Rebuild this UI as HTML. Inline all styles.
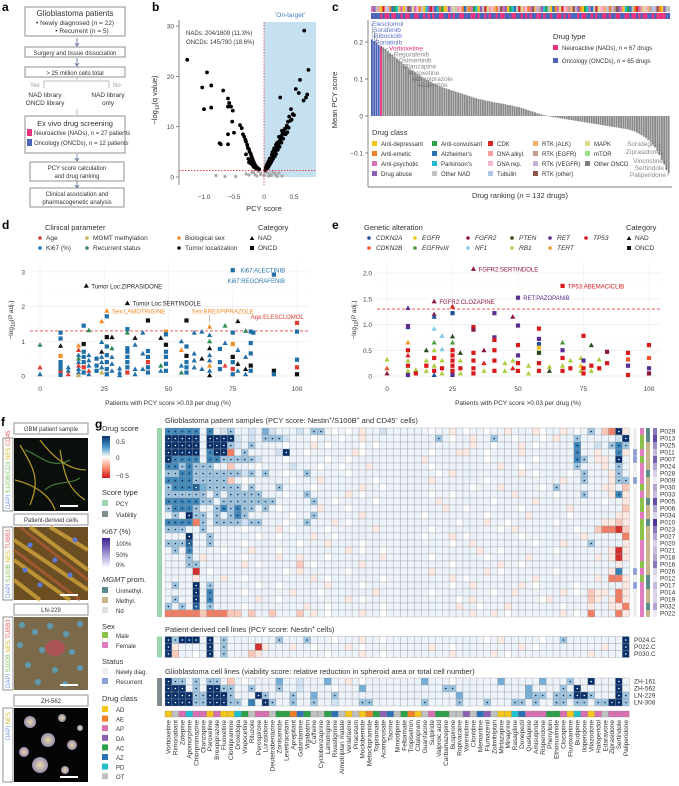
<!DOCTYPE html>
<html><head><meta charset="utf-8">
<style>
html,body{margin:0;padding:0;background:#fff;}
svg{display:block;font-family:"Liberation Sans",Arial,sans-serif;}
text{fill:#333;}
.lab{font-weight:bold;font-size:12px;fill:#000;}
.s6{font-size:6px;} .s65{font-size:6.5px;} .s7{font-size:7px;} .s75{font-size:7.5px;} .s8{font-size:8px;}
.box{fill:#fff;stroke:#777;stroke-width:0.8;}
.tk{font-size:6.5px;fill:#444;}
</style></head>
<body>
<svg id="fig" width="679" height="786" viewBox="0 0 679 786" xmlns="http://www.w3.org/2000/svg">
<defs>
<linearGradient id="gDrug" x1="0" y1="0" x2="0" y2="1">
<stop offset="0" stop-color="#08306b"/><stop offset="0.25" stop-color="#4292c6"/><stop offset="0.5" stop-color="#ffffff"/><stop offset="0.75" stop-color="#fc9272"/><stop offset="1" stop-color="#cb181d"/>
</linearGradient>
<linearGradient id="gKi" x1="0" y1="0" x2="0" y2="1">
<stop offset="0" stop-color="#3f1d8f"/><stop offset="0.5" stop-color="#9b8fd0"/><stop offset="1" stop-color="#ffffff"/>
</linearGradient>
<radialGradient id="gCell" cx="0.5" cy="0.5" r="0.6"><stop offset="0" stop-color="#e8d9a8"/><stop offset="1" stop-color="#8a7fb0"/></radialGradient>
</defs>

<text class="lab" x="2" y="11">a</text>
<text class="lab" x="152" y="11">b</text>
<text class="lab" x="332" y="11">c</text>
<text class="lab" x="2" y="229">d</text>
<text class="lab" x="332" y="229">e</text>
<text class="lab" x="1" y="426">f</text>
<text class="lab" x="95" y="428">g</text>

<g>
<rect class="box" x="25" y="7" width="100" height="29"/>
<text x="75" y="16" text-anchor="middle" class="s8">Glioblastoma patients</text>
<text x="75" y="25" text-anchor="middle" class="s65">• Newly diagnosed (<tspan font-style="italic">n</tspan> = 22)</text>
<text x="82" y="33" text-anchor="middle" class="s65">• Recurrent (<tspan font-style="italic">n</tspan> = 5)</text>
<path d="M77 38V45M75 43L77 46L79 43" stroke="#5a6f9a" fill="none" stroke-width="0.8"/>
<rect class="box" x="25" y="47" width="100" height="10"/>
<text x="75" y="55" text-anchor="middle" class="s6">Surgery and tissue dissociation</text>
<path d="M77 58V65M75 63L77 66L79 63" stroke="#5a6f9a" fill="none" stroke-width="0.8"/>
<rect class="box" x="25" y="67" width="100" height="10"/>
<text x="75" y="75" text-anchor="middle" class="s6">&gt; 25 million cells total</text>
<path d="M77 77V81M44 81H109M44 81V88M109 81V88" stroke="#aaa" fill="none" stroke-width="0.8"/>
<text x="30" y="87" class="s6" style="fill:#999">Yes</text>
<text x="113" y="87" class="s6" style="fill:#999">No</text>
<text x="45" y="97" text-anchor="middle" class="s65">NAD library</text>
<text x="45" y="105" text-anchor="middle" class="s65">ONCD library</text>
<text x="108" y="97" text-anchor="middle" class="s65">NAD library</text>
<text x="108" y="105" text-anchor="middle" class="s65">only</text>
<path d="M77 109V115" stroke="#aaa" fill="none" stroke-width="0.8"/>
<rect class="box" x="25" y="116" width="100" height="37"/>
<text x="75" y="126" text-anchor="middle" class="s75">Ex vivo drug screening</text>
<rect x="27" y="129" width="5" height="7" fill="#e8337f"/>
<text x="34" y="135" class="s6">Neuroactive (NADs), <tspan font-style="italic">n</tspan> = 27 patients</text>
<rect x="27" y="139" width="5" height="7" fill="#4a62b8"/>
<text x="34" y="145" class="s6">Oncology (ONCDs), <tspan font-style="italic">n</tspan> = 12 patients</text>
<path d="M77 154V160M75 158L77 161L79 158" stroke="#5a6f9a" fill="none" stroke-width="0.8"/>
<rect class="box" x="30" y="162" width="94" height="19"/>
<text x="77" y="170" text-anchor="middle" class="s6">PCY score calculation</text>
<text x="77" y="178" text-anchor="middle" class="s6">and drug ranking</text>
<path d="M77 181V187M75 185L77 188L79 185" stroke="#5a6f9a" fill="none" stroke-width="0.8"/>
<rect class="box" x="30" y="188" width="94" height="19"/>
<text x="77" y="196" text-anchor="middle" class="s6">Clinical association and</text>
<text x="77" y="204" text-anchor="middle" class="s6">pharmacogenetic analysis</text>
</g>

<g>
<rect x="264" y="22" width="52" height="155" fill="#c5e0ef"/>
<text x="290" y="17" text-anchor="middle" class="s65" style="fill:#3b7fc4">'On-target'</text>
<text x="186" y="35" class="s6">NADs: 204/1809 (11.3%)</text>
<text x="186" y="44" class="s6">ONCDs: 145/780 (18.6%)</text>
<text x="157" y="100" transform="rotate(-90 157 100)" text-anchor="middle" class="s75">−log<tspan font-size="5" dy="2">10</tspan><tspan dy="-2">(q value)</tspan></text>
<text x="264" y="211" text-anchor="middle" class="s75">PCY score</text>
</g>
<g id="bplot"></g>

<g>
<text x="337" y="100" transform="rotate(-90 337 100)" text-anchor="middle" class="s75">Mean PCY score</text>
<text x="520" y="198" text-anchor="middle" class="s75">Drug ranking (<tspan font-style="italic">n</tspan> = 132 drugs)</text>
<text x="553" y="39" class="s75">Drug type</text>
<rect x="553" y="45" width="5" height="5" fill="#e8337f"/>
<text x="562" y="50" class="s6">Neuroactive (NADs), <tspan font-style="italic">n</tspan> = 67 drugs</text>
<rect x="553" y="58" width="5" height="5" fill="#4a62b8"/>
<text x="562" y="63" class="s6">Oncology (ONCDs), <tspan font-style="italic">n</tspan> = 65 drugs</text>
<text x="372" y="135" class="s75">Drug class</text>
</g>
<g id="cplot"></g>

<g>
<text x="45" y="230" class="s75">Clinical parameter</text>
<text x="258" y="230" class="s75">Category</text>
<text x="364" y="230" class="s75">Genetic alteration</text>
<text x="626" y="230" class="s75">Category</text>
<text x="168" y="405" text-anchor="middle" class="s65">Patients with PCY score &gt;0.03 per drug (%)</text>
<text x="518" y="405" text-anchor="middle" class="s65">Patients with PCY score &gt;0.03 per drug (%)</text>
<text x="13" y="320" transform="rotate(-90 13 320)" text-anchor="middle" class="s65">−log<tspan font-size="5" dy="2">10</tspan><tspan dy="-2">(</tspan><tspan font-style="italic">P</tspan> adj.)</text>
<text x="356" y="320" transform="rotate(-90 356 320)" text-anchor="middle" class="s65">−log<tspan font-size="5" dy="2">10</tspan><tspan dy="-2">(</tspan><tspan font-style="italic">P</tspan> adj.)</text>
</g>
<g id="dplot"></g>
<g id="eplot"></g>

<g>
<rect class="box" x="14" y="423" width="74" height="11"/>
<text x="51" y="431" text-anchor="middle" class="s6">GBM patient sample</text>
<rect x="3" y="438" width="10" height="73" class="box"/>
<rect x="14" y="438" width="74" height="73" fill="#0b0f0c"/>
<path d="M20 445C35 470 40 480 30 505M40 440C55 460 70 470 86 470M60 450C65 480 70 490 85 500M15 480C35 485 50 495 55 510" stroke="#d6b52a" stroke-width="1.3" fill="none" opacity="0.8"/>
<path d="M25 450C40 455 50 470 70 460M45 490C55 480 70 485 80 478" stroke="#6ac05a" stroke-width="1" fill="none" opacity="0.7"/>
<text x="10" y="509" transform="rotate(-90 10 509)" class="s6" style="fill:#6a8fd8">DAPI <tspan style="fill:#7bc35a">S100B/CD3</tspan> <tspan style="fill:#d6b52a">NES</tspan> <tspan style="fill:#e06060">CD45</tspan></text>
<rect x="60" y="505" width="18" height="2" fill="#fff"/>

<rect class="box" x="14" y="514" width="74" height="11"/>
<text x="51" y="522" text-anchor="middle" class="s6">Patient-derived cells</text>
<rect x="3" y="527" width="10" height="73" class="box"/>
<rect x="14" y="527" width="74" height="73" fill="#6b4f22"/>
<path d="M14 540L88 590M14 560L70 600M30 527L88 570M14 580L40 600M50 527L88 550" stroke="#e0b040" stroke-width="4" opacity="0.7"/>
<path d="M14 550L80 600M20 527L88 580" stroke="#c0603a" stroke-width="3" opacity="0.6"/>
<g fill="#5a78d8"><circle cx="30" cy="545" r="2.5"/><circle cx="55" cy="560" r="2.5"/><circle cx="70" cy="575" r="2.5"/><circle cx="40" cy="585" r="2.5"/><circle cx="75" cy="540" r="2.5"/><circle cx="25" cy="570" r="2.5"/></g>
<text x="10" y="598" transform="rotate(-90 10 598)" class="s6" style="fill:#6a8fd8">DAPI <tspan style="fill:#7bc35a">S100B</tspan> <tspan style="fill:#d6b52a">NES</tspan> <tspan style="fill:#e06060">TUBB3</tspan></text>
<rect x="60" y="594" width="18" height="2" fill="#fff"/>

<rect class="box" x="14" y="604" width="74" height="11"/>
<text x="51" y="612" text-anchor="middle" class="s6">LN-229</text>
<rect x="3" y="617" width="10" height="73" class="box"/>
<rect x="14" y="617" width="74" height="73" fill="#7a6a4a"/>
<g fill="#58a8c8" opacity="0.8"><circle cx="22" cy="625" r="3"/><circle cx="35" cy="632" r="3"/><circle cx="50" cy="626" r="3"/><circle cx="66" cy="634" r="3"/><circle cx="80" cy="624" r="3"/><circle cx="20" cy="645" r="3"/><circle cx="42" cy="650" r="3"/><circle cx="72" cy="652" r="3"/><circle cx="28" cy="665" r="3"/><circle cx="55" cy="670" r="3"/><circle cx="80" cy="668" r="3"/><circle cx="38" cy="682" r="3"/><circle cx="65" cy="684" r="3"/></g>
<ellipse cx="55" cy="648" rx="10" ry="8" fill="#c04a5a" opacity="0.7"/>
<text x="10" y="688" transform="rotate(-90 10 688)" class="s6" style="fill:#6a8fd8">DAPI <tspan style="fill:#7bc35a">S100B</tspan> <tspan style="fill:#d6b52a">NES</tspan> <tspan style="fill:#e06060">TUBB3</tspan></text>
<rect x="60" y="684" width="18" height="2" fill="#fff"/>

<rect class="box" x="14" y="695" width="74" height="11"/>
<text x="51" y="703" text-anchor="middle" class="s6">ZH-562</text>
<rect x="3" y="708" width="10" height="74" class="box"/>
<rect x="14" y="708" width="74" height="74" fill="#050505"/>
<g fill="url(#gCell)"><circle cx="30" cy="722" r="6"/><circle cx="62" cy="718" r="4"/><circle cx="48" cy="740" r="7"/><circle cx="24" cy="752" r="5"/><circle cx="72" cy="745" r="5"/><circle cx="40" cy="765" r="8"/><circle cx="65" cy="770" r="4"/><circle cx="80" cy="728" r="3"/></g>
<text x="10" y="740" transform="rotate(-90 10 740)" class="s6" style="fill:#6a8fd8">DAPI <tspan style="fill:#d6b52a">NES</tspan></text>
<rect x="60" y="776" width="18" height="2" fill="#fff"/>
</g>

<g>
<text x="102" y="431" class="s75">Drug score</text>
<rect x="102" y="436" width="8" height="42" fill="url(#gDrug)"/>
<text x="116" y="444" class="s65">0.5</text>
<text x="116" y="460" class="s65">0</text>
<text x="116" y="478" class="s65">−0.5</text>
<text x="102" y="495" class="s75">Score type</text>
<rect x="102" y="500" width="6" height="6" fill="#9fd4b0"/><text x="116" y="506" class="s6">PCY</text>
<rect x="102" y="511" width="6" height="6" fill="#7f8c8d"/><text x="116" y="517" class="s6">Viability</text>
<text x="102" y="534" class="s75">Ki67 (%)</text>
<rect x="102" y="538" width="8" height="30" fill="url(#gKi)"/>
<text x="116" y="546" class="s6">100%</text><text x="116" y="557" class="s6">50%</text><text x="116" y="567" class="s6">0%</text>
<text x="102" y="582" class="s75"><tspan font-style="italic">MGMT</tspan> prom.</text>
<rect x="102" y="587" width="6" height="6" fill="#5a8a8a"/><text x="116" y="593" class="s6">Unmethyl.</text>
<rect x="102" y="597" width="6" height="6" fill="#c8b48a"/><text x="116" y="603" class="s6">Methyl.</text>
<rect x="102" y="607" width="6" height="6" fill="#e0e0e0"/><text x="116" y="613" class="s6">Nd</text>
<text x="102" y="629" class="s75">Sex</text>
<rect x="102" y="632" width="6" height="6" fill="#8bc34a"/><text x="116" y="638" class="s6">Male</text>
<rect x="102" y="642" width="6" height="6" fill="#e07cc0"/><text x="116" y="648" class="s6">Female</text>
<text x="102" y="664" class="s75">Status</text>
<rect x="102" y="668" width="6" height="6" fill="#eeeeee"/><text x="116" y="674" class="s6">Newly diag.</text>
<rect x="102" y="678" width="6" height="6" fill="#8a9fd6"/><text x="116" y="684" class="s6">Recurrent</text>
<text x="102" y="701" class="s75">Drug class</text>
</g>
<g id="gplot"></g>
</svg>

<script>
const volcanoPcy = [-1.28,-0.95,-1.03,-0.88,-1.0,-0.88,-0.68,-0.6,-0.58,-0.6,-0.55,-0.52,-0.53,-0.6,-0.5,-0.74,-0.72,-0.6,-0.4,-0.37,-0.35,-0.33,-0.31,-0.3,-0.28,-0.27,-0.25,-0.24,-0.22,-0.21,-0.2,-0.19,-0.18,-0.17,-0.16,-0.15,-0.14,-0.13,-0.12,-0.11,-0.1,-0.09,-0.08,-0.3,-0.26,-0.23,-0.2,-0.18,-0.15,-0.13,-0.1,-0.25,-0.22,-0.17,-0.12,
0.67,0.74,0.6,0.53,0.58,0.72,0.7,0.66,0.27,0.45,0.48,0.42,0.46,0.4,0.38,0.35,0.33,0.31,0.3,0.28,0.27,0.25,0.24,0.22,0.21,0.2,0.19,0.18,0.17,0.16,0.15,0.14,0.13,0.12,0.11,0.1,0.09,0.08,0.07,0.06,0.05,0.04,0.03,0.02,0.36,0.32,0.29,0.26,0.23,0.2,0.18,0.15,0.12,0.1,0.08,0.06,0.04,0.3,0.25,0.2,0.16,0.13,0.1,0.07,0.05,0.03,0.22,0.17,0.14,0.09,0.41,0.44,0.5,0.39];
const volcanoQ = [23.3,20.8,17.8,18.2,13.5,13.8,17.2,15.6,14.7,14,14,13.2,11,8.5,8.8,6.7,6.5,6.5,10.3,9.7,8.5,8,7.4,7,6.4,5.8,5.5,5,4.6,4.2,3.8,3.5,3.2,2.9,2.6,2.4,2.2,2,1.9,1.8,1.7,1.6,1.5,4.5,3.6,3.1,2.5,2.2,1.9,1.7,1.6,2.9,2.7,2,1.8,
29.1,21.3,19.3,17.5,16.7,16.4,15.8,15.2,15.8,13.5,12.5,12,11.4,11,10.2,9.6,9.2,8.7,8.3,7.8,7.4,7,6.6,6.2,5.8,5.5,5.2,4.8,4.5,4.2,3.9,3.6,3.3,3,2.8,2.6,2.4,2.2,2,1.9,1.7,1.6,1.5,1.4,8.5,7.6,6.8,6,5.4,4.6,4.1,3.6,3.1,2.7,2.4,2.1,1.8,9.2,8,6.4,5.3,4.4,3.7,3,2.5,2,6.8,5.7,4.9,3.5,9.8,11.2,12.3,8.9];
const volcanoGrayPcy = [-0.8,-0.65,-0.47,-0.3,-0.25,-0.2,-0.15,-0.1,-0.05,0,0.05,0.1,0.15,0.2,0.25,0.3,-0.12,-0.06,0.02,0.08,0.12,0.18,-0.18,0.22];
const volcanoGrayQ = [0.3,0.1,0.1,0.6,0.4,0.9,0.5,1.1,0.7,0.3,0.9,0.6,1.0,0.4,0.8,0.2,0.2,0.5,1.1,0.2,0.3,0.7,1.0,0.1];
const volcanoXTicks = [-1.0,-0.5,0,0.5];
const volcanoXTickLabels = ['−1.0','−0.5','0','0.5'];
const volcanoYTicks = [0,10,20,30];

const rankScores = [0.207,0.203,0.198,0.192,0.188,0.186,0.18,0.175,0.17,0.165,
0.16,0.155,0.15,0.145,0.14,0.135,0.13,0.126,0.122,0.118,
0.114,0.11,0.106,0.102,0.098,0.095,0.092,0.089,0.086,0.083,
0.08,0.078,0.076,0.074,0.072,0.07,0.068,0.066,0.064,0.062,
0.06,0.058,0.056,0.054,0.052,0.05,0.048,0.046,0.045,0.044,
0.042,0.041,0.04,0.038,0.037,0.036,0.035,0.034,0.033,0.032,
0.03,0.029,0.028,0.026,0.025,0.024,0.022,0.02,0.018,0.016,
0.014,0.012,0.01,0.008,0.006,0.004,0.002,0.001,-0.001,-0.002,
-0.003,-0.004,-0.005,-0.006,-0.007,-0.008,-0.009,-0.01,-0.011,-0.012,
-0.013,-0.014,-0.015,-0.016,-0.017,-0.018,-0.019,-0.02,-0.021,-0.022,
-0.023,-0.024,-0.025,-0.026,-0.027,-0.028,-0.029,-0.03,-0.031,-0.032,
-0.033,-0.034,-0.035,-0.036,-0.038,-0.04,-0.042,-0.045,-0.048,-0.052,
-0.056,-0.06,-0.065,-0.07,-0.077,-0.085,-0.095,-0.105,-0.118,-0.13,
-0.145,-0.155];
const rankType = "OOOONONNONNOONONNOONNOONONONOONNOONONOONNOOONNONOONONOONONNOOONNOONONONOONNONOONOONNONONOOONONNOONONOONNONOONNOONNONNONONNOONONNNN";
const rankClass = "cdhjaiklbfegmcaopdqckbhagdicfgbeamdoqhjkbfnbcegadhiqjkmbopcdaegfhiqjkbcpmondgehafbcqikjnmpodbaegcfhiqkjmlbonpdcagefhbicjqkmnlopbad";
const rankYTicks = [0.2,0.1,0,-0.1];
const rankYTickLabels = ['0.2','0.1','0','−0.1'];
const rankTopLabels = ['Elesclomol','Sorafenib','Ribociclib','Ponatinib','Vortioxetine','Regorafenib','Osimertinib','Olanzapine','Paroxetine','Brexpiprazole','Fluoxetine'];
const rankTopIdx = [0,1,2,3,4,7,11,15,18,21,25];
const rankBottomLabels = ['Sonidegib','Ziprasidone','Vincristine','Sertindole','Paliperidone'];
const rankBottomIdx = [127,128,129,130,131];
const classNames = ['Anti-depressant','Anti-emetic','Anti-psychotic','Drug abuse','Anti-convulsant',"Alzheimer's","Parkinson's",'Other NAD','CDK','DNA alkyl.','DNA rep.','Tubulin','RTK (ALK)','RTK (EGFR)','RTK (VEGFR)','RTK (other)','MAPK','mTOR','Other ONCD'];

const dPts = [[0,0.9,'R','t'],[0,0.25,'A','t'],[0,0.05,'K','t'],
[8,1.25,'K','s'],[8,1.08,'K','s'],[8,0.87,'T','t'],[8,0.58,'S','s'],[8,0.4,'K','s'],[8,0.3,'K','s'],[8,0.2,'K','s'],[8,0.1,'A','s'],[8,0.03,'K','s'],
[11,0.25,'K','t'],[11,0.15,'K','t'],[11,0.05,'A','t'],
[15,0.88,'S','t'],[15,0.75,'A','t'],[15,0.6,'K','t'],[15,0.5,'R','t'],[15,0.4,'K','t'],[15,0.3,'A','t'],[15,0.2,'K','t'],[15,0.1,'K','t'],[15,0.02,'M','t'],
[17,1.45,'K','s'],[17,0.92,'T','s'],[17,0.7,'K','s'],[17,0.55,'K','s'],[17,0.4,'K','s'],[17,0.25,'A','s'],[17,0.1,'K','s'],
[18,2.6,'T','t'],
[19,1.32,'R','t'],[19,0.6,'K','t'],[19,0.45,'K','t'],[19,0.3,'K','t'],[19,0.15,'A','t'],[19,0.05,'K','t'],
[22,0.5,'K','s'],[22,0.3,'K','s'],[22,0.15,'K','s'],
[24,1.58,'S','t'],[24,0.98,'K','t'],[24,0.7,'T','t'],[24,0.55,'K','t'],[24,0.4,'K','t'],[24,0.25,'K','t'],[24,0.1,'M','t'],
[26,1.88,'S','t'],[26,1.72,'K','s'],[26,1.12,'T','s'],[26,0.85,'K','s'],[26,0.6,'K','s'],[26,0.4,'K','s'],[26,0.2,'K','s'],[26,0.05,'K','s'],
[28,1.12,'T','t'],[28,0.8,'R','t'],[28,0.55,'K','t'],[28,0.35,'K','t'],[28,0.15,'K','t'],
[31,0.22,'K','t'],[31,0.1,'K','t'],[31,0.02,'K','t'],
[34,2.1,'T','t'],[34,1.35,'K','s'],[34,1.25,'R','t'],[34,0.8,'K','s'],[34,0.7,'K','s'],[34,0.55,'K','s'],[34,0.4,'K','s'],[34,0.25,'K','s'],[34,0.1,'A','s'],
[37,1.1,'T','t'],[37,0.9,'K','t'],[37,0.2,'K','t'],[37,0.05,'K','t'],
[40,1.25,'K','t'],[40,0.65,'K','t'],[40,0.2,'K','t'],
[42,1.6,'T','s'],[42,0.72,'K','s'],[42,0.55,'K','s'],[42,0.4,'A','s'],[42,0.25,'K','s'],[42,0.1,'K','s'],
[47,1.1,'T','t'],[47,0.3,'R','t'],[47,0.15,'K','t'],
[49,1.28,'S','s'],[49,1.2,'K','s'],[49,0.9,'T','s'],[49,0.7,'K','s'],[49,0.55,'K','s'],[49,0.35,'K','s'],[49,0.15,'K','s'],
[55,1.0,'K','t'],[55,0.75,'S','t'],[55,0.3,'K','t'],[55,0.1,'R','t'],
[57,1.6,'T','s'],[57,0.85,'K','s'],[57,0.58,'T','s'],[57,0.4,'K','s'],[57,0.25,'K','s'],[57,0.1,'K','s'],
[60,1.25,'K','t'],[60,0.65,'K','t'],[60,0.45,'K','t'],[60,0.25,'K','t'],
[63,1.28,'K','t'],[63,0.5,'T','t'],[63,0.2,'K','t'],
[66,1.42,'S','t'],[66,1.18,'K','t'],[66,1.0,'R','t'],[66,0.8,'T','t'],[66,0.6,'K','t'],[66,0.45,'K','t'],[66,0.3,'S','t'],[66,0.15,'K','t'],[66,0.02,'T','t'],
[70,0.78,'K','s'],[70,0.4,'K','s'],[70,0.2,'K','s'],
[72,1.45,'R','t'],[72,0.95,'K','t'],[72,0.3,'A','t'],
[75,3.05,'K','s'],[75,1.25,'K','s'],[75,0.92,'S','s'],[75,0.55,'T','s'],[75,0.4,'K','s'],[75,0.2,'A','s'],[75,0.05,'K','s'],
[77,1.58,'T','t'],[77,0.75,'K','t'],[77,0.35,'T','t'],[77,0.15,'K','t'],
[80,1.3,'R','t'],[80,0.55,'K','t'],[80,0.2,'T','t'],[80,0.05,'K','t'],
[82,1.28,'K','s'],[82,0.95,'K','s'],[82,0.65,'K','s'],[82,0.3,'T','s'],[82,0.15,'K','s'],[83,1.25,'K','s'],
[91,2.92,'K','s'],[91,0.15,'T','s'],[91,0.05,'K','s'],
[100,1.53,'A','s'],[100,1.28,'K','s'],[100,0.47,'K','s'],[100,0.25,'A','s'],[100,0.05,'T','s']];
const dYTicks = [0,1,2,3];
const dXTicks = [0,25,50,75,100];
const dThreshold = 1.3;

const ePts = [[0,0.32,'B','t'],[0,0.15,'b','t'],[0,0.05,'F','t'],
[8,1.32,'r','t'],[8,0.95,'a','t'],[8,0.97,'r','s'],[8,0.65,'T','t'],[8,0.5,'p','s'],[8,0.4,'p','t'],[8,0.3,'B','t'],[8,0.2,'p','s'],[8,0.1,'B','t'],[8,0.02,'r','s'],
[11,0.12,'B','t'],[11,0.05,'p','s'],
[15,0.5,'P','t'],[15,0.3,'B','t'],[15,0.2,'p','s'],[15,0.1,'B','t'],
[18,1.45,'F','t'],[18,1.2,'F','t'],[18,1.15,'a','t'],[18,0.92,'N','t'],[18,0.65,'V','t'],[18,0.5,'B','t'],[18,0.35,'p','s'],[18,0.2,'B','t'],[18,0.1,'p','s'],[18,0.02,'a','t'],
[21,0.78,'N','t'],[21,0.52,'N','t'],[21,0.3,'B','t'],[21,0.15,'p','s'],[21,0.05,'B','t'],
[25,1.35,'p','t'],[25,1.22,'a','s'],[25,0.77,'P','t'],[25,0.65,'V','t'],[25,0.5,'p','s'],[25,0.4,'p','s'],[25,0.3,'p','s'],[25,0.2,'p','s'],[25,0.1,'p','s'],[25,0.02,'r','s'],
[28,0.45,'P','t'],[28,0.3,'B','t'],[28,0.15,'p','s'],[28,0.05,'B','t'],
[33,2.08,'F','t'],[33,0.95,'p','s'],[33,0.9,'F','s'],[33,0.45,'p','s'],[33,0.3,'p','s'],[33,0.15,'p','s'],[33,0.05,'p','s'],
[37,0.5,'F','t'],[37,0.25,'p','t'],[37,0.1,'B','t'],
[41,1.22,'r','s'],[41,0.75,'r','s'],[41,0.7,'p','s'],[41,0.5,'p','s'],[41,0.3,'p','s'],[41,0.1,'p','s'],
[45,0.25,'B','t'],[45,0.1,'B','t'],
[48,1.15,'F','t'],[48,0.3,'B','t'],[48,0.15,'p','t'],
[50,1.52,'r','s'],[50,0.98,'r','s'],[50,0.6,'p','s'],[50,0.4,'r','s'],[50,0.25,'p','s'],[50,0.1,'p','s'],
[54,0.2,'B','t'],[54,0.05,'B','t'],
[58,0.92,'p','s'],[58,0.72,'r','s'],[58,0.62,'a','s'],[58,0.55,'E','s'],[58,0.45,'P','s'],[58,0.25,'p','s'],[58,0.1,'p','s'],
[62,0.18,'B','t'],[62,0.1,'P','t'],
[67,1.75,'p','s'],[67,0.65,'V','t'],[67,0.5,'r','s'],[67,0.35,'p','s'],[67,0.2,'B','t'],[67,0.1,'p','s'],
[70,0.3,'B','t'],[70,0.15,'p','s'],
[74,0.35,'B','t'],[74,0.2,'E','t'],[74,0.1,'B','t'],
[75,0.78,'p','s'],[75,0.3,'r','s'],[75,0.15,'p','s'],[75,0.05,'p','s'],
[78,0.6,'P','t'],[78,0.2,'p','s'],[78,0.1,'B','t'],
[81,0.32,'B','t'],[81,0.15,'p','s'],
[84,0.47,'F','s'],[84,0.25,'p','s'],
[92,0.45,'p','s'],[92,0.32,'b','s'],[92,0.2,'r','s'],[92,0.02,'p','s'],
[100,0.6,'p','s'],[100,0.35,'b','s'],[100,0.15,'r','s'],[100,0.05,'F','s']];
const eYTicks = [0,0.5,1.0,1.5,2.0];
const eYTickLabels = ['0','0.5','1.0','1.5','2.0'];
const eXTicks = [0,25,50,75,100];
const eThreshold = 1.3;

const drugs = ['Vortioxetine','Rimonabant','Zotepine','Apomorphine','Chlorpromazine','Olanzapine','Paroxetine','Brexpiprazole','Fluoxetine','Clomipramine','Droxidopa','Vinpocetine','Riluzole','Perospirone','Lurasidone','Deutetrabenazine','Zonisamide','Levetiracetam','Aprepitant','Galantamine','Vigabatrin','Caffeine','Cyclobenzaprine','Lamotrigine','Rivastigmine','Almotriptan malate','Venlafaxine','Piracetam','Moclobemide','Metoclopramide','Topiramate','Acamprosate','Tacrine','Nimodipine','Felbamate','Tropisetron','Citalopram','Guanfacine','Sulpiride','Valproic acid','Carbamazepine','Buspirone','Ropivacaine','Varenicline','Clonidine','Memantine','Flumazenil','Zolmitriptan','Mirtazapine','Minaprine','Rasagiline','Donepezil','Quetiapine','Amisulpride','Risperidone','Phenytoin','Ethosuximide','Clozapine','Fluvoxamine','Budipine','Iloperidone','Vilazodone','Haloperidol','Edaravone','Ziprasidone','Sertindole','Paliperidone'];
const drugClass = ['AD','OT','AP','PD','AP','AP','AD','AP','AD','AD','PD','AC','OT','AP','AP','OT','AC','AC','AE','AZ','AC','OT','OT','AC','AZ','OT','AD','OT','AD','AE','AC','DA','AZ','OT','AC','AE','AD','OT','AP','AC','AC','OT','OT','DA','OT','AZ','DA','OT','AD','AD','PD','AZ','AP','AP','AP','AC','AC','AP','AD','PD','AP','AD','AP','OT','AP','AP','AP'];
const patients = ['P029','P013','P025','P011','P007','P024','P028','P009','P030','P033','P005','P006','P034','P010','P023','P027','P020','P021','P018','P016','P026','P012','P017','P014','P019','P032','P022'];
const patientScores = [
"BBBBB lBlaA llalb allla lAAl0 l0lpl lal0l lpl0l l0llp lllp0 llpl0 lAlqr Dp",
"DDDDD lDDDD alalA AAall l0lll 0llpl llllA l0llp llAll 0lll0 lpllA lllll aD",
"DDDDD lDDDA alAll ll0ll lpl0l lll0l 0llll llllp ll0ll lpl0l llllB llalA BA",
"DDDDD lBDDr lAlll laDll 0llll llp0l lll0l llppl l0lll lplll llllB llpll Bp",
"DBBBB lBBAA AAAal ll0ll lll0l l0lll llpll lllll l0lll lll0l llllB Alppl Dl",
"BBABA AAllq lll0l lllal ll0ll 0lllp lll0l lllll lllpl l0lll llllA lllpl Al",
"AABBA AAAAA AaAlA ll0ll Allll l0lll llll0 lplll lllll lpl0l lll0l Alllp Al",
"BBBBA AAAAq l0lll lll0l llpll lllll 0llpl lllll l0lll lllll llpll Alllp AA",
"ABBBC bAAAA AlAll lAlll l0lll lllpl l0lll llll0 lllpl llll0 lAlll lllpp lq",
"AAAAA AlAlA AAAAl ll0ll Allll lpl0l lll0l l0lll lllll pllll l0lll Alllp Bp",
"BBBBB AAlAA AAAAA Allll lAll0 lllll 0lllp lllll ll0ll lllpl lllll lll0l lp",
"ABBBA llABA BAAlA l0lll llpll l0lll lllll pll0l lllll l0lll lllpl lllll lq",
"lAlDA AlAlA BAlll lll0l lAlll lllpl ll0ll lllll l0lll llpll lll0l lllll pp",
"BBBBr AlAAA AaAAl ll0ll Alllp l0lll lllll ll0ll lpll0 lllll l0lll lllpp qp",
"AAAll Allll l0lll lpl0l lll0l lllll pl0ll lllll ll0lp lllll lll0l lqrrs q",
"lllDl lAlll lll0l l0lll lpll0 lllll ll0ll lpl0l lllll l0lll lllll pllll lr",
"AAACl lAlll l0lll llll0 lllpl lll0l lllll l0llp lllll lll0l llpll lAlll lp",
"lAlBl lll0l llpll l0lll lllll lpl0l l0lll lllll pll0l lllll l0lll llllp sp",
"lllAl pllll l0lll lpllp lll0l lllll lpl0l lllll l0lll llpll lllll llplp sp",
"lllAA lllll lpl0l llllq l0lll lllpl lllll l0lll lllpl l0lll lllll lllll pl",
"lllls l0lll lllll ll0lp lllll l0lll lllpl lllll lpl0l lllll l0lll llllp cl",
"llllp lllpl l0lll lllll lpl0l lllll l0lll lpl0l lllll lllpl lllll llplr rp",
"lAllD lAlll lll0l l0lll lllpl lll0l lllll l0llp lllll lpl0l llll0 lllll lp",
"llllD lBlll l0lll lllpl ll0ll lllll pl0ll lllll l0llp lllll lpl0l qpplr p",
"lAllD lBlll lllpl l0lll lllll lpl0l lllll l0lpl lllll lll0p lllll qplpr p",
"AlAlC lAlll l0lll lllll pll0l lllll l0lll lpll0 lllpl lllll l0lll pllpp r",
"rrrrr qrrrq qlqll qlllq lpl0l lllpl l0lll lllpl lpl0l lllll lpl0l rlllr p"];
const pdcLines = ['P024.C','P022.C','P030.C'];
const pdcScores = [
"DADDD lDlAl lllll lAlll Alll0 lllpl l0lll lllll l0lpl llll0 llAll lllll lD",
"Dplll lDlAl lllsp lllpl l0lll lpl0l lllpl l0lll lllll lpl0l lllll lllpl lD",
"Dqll0 lDlAl llqpl lllll lll0l lllpl l0lll lplll llpl0 lllll lllll lplll lD"];
const gblLines = ['ZH-161','ZH-562','LN-229','LN-308'];
const gblScores = [
"DAAlA lAAlq l0lll lblla lllbl lpl0l llbll l0lll lllbl llllb lllAl lDlll Dl",
"DDDlA lDDAA llAll lAlla llll0 lllbl lllll AAlll lllll llbll llAlD lllll Dl",
"DDDDA ADDDA lllDA lllAl lbllA lllll lllll llbll lllll llbAA lAAAD DAlll DA",
"DDDDA ADDDA AlclD AllAl lAlla lllAA llAll llAll lAlll AAlAl lAAlA AlAAD DA"];
const patStatus = "NNNRRNNRNNNNNNNNNNNNRNRNNNN";
const patSex = "FMMFMFFFMFMMFMMMFFFMFMFFFFF";
const patMgmt = "UUMMMMUMMMUMMUMMMMMMMUUMMUM";
const patKi67 = [60,80,50,30,70,40,20,10,40,30,80,40,20,90,60,40,20,30,40,60,20,10,30,20,20,40,10];

const NS = 'http://www.w3.org/2000/svg';
function mk(tag, attrs, parent){ const e=document.createElementNS(NS,tag); for(const k in attrs) e.setAttribute(k,attrs[k]); parent.appendChild(e); return e; }
function txt(s, attrs, parent){ const e=mk('text',attrs,parent); e.textContent=s; return e; }

(function(){
  const g=document.getElementById('bplot');
  
  
  const xs=v=>264+v*60, ys=v=>177-v*5.03;
  mk('line',{x1:179,y1:20,x2:179,y2:185,stroke:'#555','stroke-width':0.7},g);
  volcanoYTicks.forEach(t=>{ mk('line',{x1:176,x2:179,y1:ys(t),y2:ys(t),stroke:'#555','stroke-width':0.7},g);
    const l=txt(String(t),{x:174,y:ys(t)+2.5,'text-anchor':'end',class:'tk'},g);
    
     });
  volcanoXTicks.forEach((t,i)=>{ const l=txt(volcanoXTickLabels[i],{x:xs(t),y:199,'text-anchor':'middle',class:'tk'},g);
    
     });
  volcanoGrayPcy.forEach((v,i)=>{ const c=mk('circle',{cx:xs(v),cy:ys(volcanoGrayQ[i]),r:1.6,fill:'#aaa'},g);
    
     });
  volcanoPcy.forEach((v,i)=>{ const c=mk('circle',{cx:xs(v),cy:ys(volcanoQ[i]),r:1.9,fill:'#000'},g);
    
     });
  mk('line',{x1:264,x2:264,y1:22,y2:185,stroke:'#e03030','stroke-width':0.8,'stroke-dasharray':'1.5,1.5'},g);
  mk('line',{x1:179,x2:316,y1:ys(1.3),y2:ys(1.3),stroke:'#e03030','stroke-width':0.8,'stroke-dasharray':'1.5,1.5'},g);
})();

(function(){
  const g=document.getElementById('cplot');
  
  
  const bw=299/rankScores.length, x0=371;
  const ys=v=>116-v*370;
  const clsKeys=['a','b','c','d','e','f','g','h','i','j','k','l','m','n','o','p','q','r','s'];
  const allColors=['#f5c518','#f07f28','#d86fb0','#8e5fb5','#2ca048','#2a72b5','#1fbfcf','#c0c0c0','#d62728','#f4a0a0','#f7b6d2','#aec7e8','#f5b06a','#c49c94','#c5b0d5','#8c564b','#dbdb8d','#98df8a','#7f7f7f'];
  mk('line',{x1:368,y1:20,x2:368,y2:187,stroke:'#555','stroke-width':0.7},g);
  mk('line',{x1:368,y1:187,x2:672,y2:187,stroke:'#555','stroke-width':0.7},g);
  rankYTicks.forEach((t,i)=>{ mk('line',{x1:365,x2:368,y1:ys(t),y2:ys(t),stroke:'#555','stroke-width':0.7},g);
    const l=txt(rankYTickLabels[i],{x:363,y:ys(t)+2.5,'text-anchor':'end',class:'tk'},g);
    
     });
  rankScores.forEach((v,i)=>{
    const col = i<4 ? '#4a62b8' : (i===4 ? '#e8337f' : '#8a8a8a');
    const r=mk('rect',{x:x0+i*bw,y:Math.min(ys(v),ys(0)),width:Math.max(bw-0.4,0.6),height:Math.abs(ys(v)-ys(0)),fill:col},g);
    
    
    const k=rankClass[i]||'h';
    const s1=mk('rect',{x:x0+i*bw,y:6,width:bw+0.1,height:6,fill:allColors[clsKeys.indexOf(k)]||'#aaa'},g);
    
    
    const s2=mk('rect',{x:x0+i*bw,y:13,width:bw+0.1,height:6,fill:rankType[i]==='N'?'#e8337f':'#4a62b8'},g);
    
    
  });
  rankTopLabels.forEach((s,j)=>{
    const i=rankTopIdx[j]; const bx=x0+i*bw+bw/2; const by=ys(rankScores[i]);
    const ty=26+j*6.1; const tx=372+ (j<4? j*1 : 17+(j-4)*4.8);
    const col = j<4 ? '#5b6fc9' : (j===4 ? '#e8337f' : '#888');
    mk('polyline',{points:`${bx},${by-1} ${bx},${ty} ${tx-1},${ty-2}`,fill:'none',stroke:'#555','stroke-width':0.4},g);
    const l=txt(s,{x:tx,y:ty,class:'s65',style:'fill:'+col},g);
    
    
  });
  rankBottomLabels.forEach((s,j)=>{
    const i=rankBottomIdx[j]; const bx=x0+i*bw+bw/2; const by=ys(rankScores[i]);
    const ty=[146,154,163,170,177][j]; const tx=[656,660,663,664,666][j];
    mk('polyline',{points:`${tx+1},${ty-2} ${bx},${ty-2} ${bx},${by+1}`,fill:'none',stroke:'#555','stroke-width':0.4},g);
    const l=txt(s,{x:tx,y:ty,'text-anchor':'end',class:'s65',style:'fill:#888'},g);
    
    
  });
  const colX=[372,432,488,533,585];
  classNames.forEach((s,i)=>{
    const r=i%4;
    const x=colX[Math.floor(i/4)], y=141+r*10;
    mk('rect',{x:x,y:y,width:5,height:5,fill:allColors[i]},g);
    const l=txt(s,{x:x+9,y:y+5,class:'s6'},g);
    
    
  });
})();

function scatterPanel(gid, pts, colors, x0, x1, ypx, yTicks, yLabels, xTicks, thr, top, name){
  const g=document.getElementById(gid);
  
  
  const xs=v=>x0+(x1-x0)*v/100, ys=ypx;
  yTicks.forEach((t,i)=>{ mk('line',{x1:x0-10,x2:x1+12,y1:ys(t),y2:ys(t),stroke:'#ececec','stroke-width':0.7},g);
    const l=txt(yLabels[i],{x:x0-15,y:ys(t)+2.5,'text-anchor':'end',class:'tk'},g);
    
     });
  for(let i=0;i<yTicks.length-1;i++){ const m=(yTicks[i]+yTicks[i+1])/2; mk('line',{x1:x0-10,x2:x1+12,y1:ys(m),y2:ys(m),stroke:'#f4f4f4','stroke-width':0.5},g); }
  xTicks.forEach(t=>{ mk('line',{x1:xs(t),x2:xs(t),y1:top,y2:ys(0)+4,stroke:'#f0f0f0','stroke-width':0.6},g);
    const l=txt(String(t),{x:xs(t),y:391,'text-anchor':'middle',class:'tk'},g);
    
     });
  mk('line',{x1:x0-10,x2:x1+12,y1:ys(thr),y2:ys(thr),stroke:'#e84040','stroke-width':0.9,'stroke-dasharray':'3,2'},g);
  pts.forEach(p=>{
    const x=xs(p[0]), y=ys(p[1]), c=colors[p[2]];
    let e;
    if(p[3]==='t') e=mk('polygon',{points:`${x},${y-2.6} ${x-2.6},${y+2} ${x+2.6},${y+2}`,fill:c},g);
    else e=mk('rect',{x:x-2.1,y:y-2.1,width:4.2,height:4.2,fill:c},g);
    
    
  });
  return {g,xs,ys};
}
const dColors={A:'#e03c31',K:'#1f6fa8',M:'#c9b25a',R:'#2e8b57',S:'#f28e2b',T:'#111'};
const eColors={a:'#1f4e9c',b:'#f0552a',E:'#f5c518',V:'#4a9a3a',F:'#8b1a3a',N:'#7ec8f0',P:'#2d4a1e',B:'#a8cf3a',r:'#5a2d91',T:'#f59a2a',p:'#d7191c'};
(function(){
  const D=scatterPanel('dplot',dPts,dColors,40,297,v=>376-v*34.7,dYTicks,dYTicks.map(String),dXTicks,dThreshold,262,'clinical-scatter');
  const labs=[['Ki67:ALECTINIB',78,3.05,'#2a7ab0'],['Ki67:REGORAFENIB',73,2.75,'#2a7ab0'],['Tumor Loc:ZIPRASIDONE',20,2.6,'#222'],['Tumor Loc:SERTINDOLE',36,2.1,'#222'],['Sex:LAMOTRIGINE',28,1.88,'#f28e2b'],['Sex:BREXPIPRAZOLE',59,1.88,'#f28e2b'],['Age:ELESCLOMOL',82,1.72,'#e03c31']];
  labs.forEach(l=>{ const t=txt(l[0],{x:D.xs(l[1]),y:D.ys(l[2])+2.5,class:'s6',style:'fill:'+l[3]},D.g);
    
     });
  mk('line',{x1:D.xs(66),x2:D.xs(66),y1:D.ys(1.78),y2:D.ys(1.55),stroke:'#888','stroke-width':0.5},D.g);
  const E=scatterPanel('eplot',ePts,eColors,387,649,v=>376-v*51.5,eYTicks,eYTickLabels,eXTicks,eThreshold,262,'genetic-scatter');
  const labs2=[['FGFR2:SERTINDOLE',35,2.08,'#8b1a3a'],['TP53:ABEMACICLIB',69,1.75,'#d7191c'],['FGFR2:CLOZAPINE',20,1.45,'#8b1a3a'],['RET:PAZOPANIB',52,1.52,'#5a2d91']];
  labs2.forEach(l=>{ const t=txt(l[0],{x:E.xs(l[1]),y:E.ys(l[2])+2.5,class:'s6',style:'fill:'+l[3]},E.g);
    
     });
  const L=document.getElementById('dplot');
  const dl=[['Age','A',40,240],['Ki67 (%)','K',40,250],['MGMT methylation','M',87,240],['Recurrent status','R',87,250],['Biological sex','S',179,240],['Tumor localization','T',179,250]];
  dl.forEach(d=>{ mk('circle',{cx:d[2],cy:d[3]-2,r:1.8,fill:dColors[d[1]]},L);
    const t=txt(d[0],{x:d[2]+6,y:d[3],class:'s65'},L);
    
     });
  const el=[['CDKN2A','a',369,240],['CDKN2B','b',369,250],['EGFR','E',415,240],['EGFRvIII','V',415,250],['FGFR2','F',468,240],['NF1','N',468,250],['PTEN','P',512,240],['RB1','B',512,250],['RET','r',550,240],['TERT','T',550,250],['TP53','p',586,240]];
  el.forEach(d=>{ mk('circle',{cx:d[2],cy:d[3]-2,r:1.8,fill:eColors[d[1]]},L);
    const t=txt(d[0],{x:d[2]+7,y:d[3],class:'s65','font-style':'italic'},L);
    
     });
  [[252,'d'],[629,'e']].forEach(c=>{ const x=c[0];
    mk('polygon',{points:`${x},${236} ${x-2.3},${240} ${x+2.3},${240}`,fill:'#111'},L);
    txt('NAD',{x:x+6,y:240,class:'s65'},L);
    mk('rect',{x:x-2,y:246,width:4,height:4,fill:'#111'},L);
    txt('ONCD',{x:x+6,y:250,class:'s65'},L); });
})();

(function(){
  const g=document.getElementById('gplot');
  
  
  const X0=165, CW=6.93, RH=7.0;
  const valMap={D:0.5,C:0.38,B:0.28,A:0.16,c:0.3,b:0.2,a:0.1,l:0.04,'0':0,p:-0.05,q:-0.12,r:-0.28,s:-0.45};
  const starred=ch=>'DCBA'.includes(ch);
  function lerp(a,b,t){return a.map((v,i)=>Math.round(v+(b[i]-v)*t));}
  const stops=[[-0.5,[203,24,29]],[-0.25,[245,140,110]],[0,[255,255,255]],[0.12,[198,219,239]],[0.25,[66,146,198]],[0.5,[8,48,107]]];
  function color(v){ v=Math.max(-0.5,Math.min(0.5,v)); for(let i=0;i<stops.length-1;i++){ if(v<=stops[i+1][0]){ const t=(v-stops[i][0])/(stops[i+1][0]-stops[i][0]); const c=lerp(stops[i][1],stops[i+1][1],t); return `rgb(${c[0]},${c[1]},${c[2]})`; } } return 'rgb(8,48,107)'; }
  function parse(s){ s=s.replace(/\s+/g,''); const n=drugs.length; if(s.length<n){ const k=n-s.length; s=s.slice(0,32)+'l'.repeat(k)+s.slice(32);} return s.slice(0,n); }
  function section(rows, labels, y0, labelX, stripColor, name){
    rows.forEach((rs,ri)=>{
      const s=parse(rs);
      for(let ci=0;ci<drugs.length;ci++){
        const ch=s[ci]; const v=valMap[ch]!==undefined?valMap[ch]:0;
        const r=mk('rect',{x:X0+ci*CW,y:y0+ri*RH,width:CW,height:RH,fill:color(v),stroke:'#9a9a9a','stroke-width':0.35},g);
        
        
        if(starred(ch)){ const d=mk('circle',{cx:X0+ci*CW+CW/2,cy:y0+ri*RH+RH/2,r:0.8,fill:v>0.3?'#fff':'#223'},g);
          
           }
      }
      const t=txt(labels[ri],{x:labelX,y:y0+ri*RH+5.6,class:'s65'},g);
      
      
    });
    const st=mk('rect',{x:157,y:y0,width:5,height:rows.length*RH,fill:stripColor},g);
    
    
  }
  let t=txt('',{x:165,y:423,class:'s75'},g); t.innerHTML='Glioblastoma patient samples (PCY score: Nestin<tspan dy="-3" font-size="5">+</tspan><tspan dy="3">/S100B</tspan><tspan dy="-3" font-size="5">+</tspan><tspan dy="3"> and CD45</tspan><tspan dy="-3" font-size="5">−</tspan><tspan dy="3"> cells)</tspan>';
  
  
  section(patientScores,patients,428,660,'#9fd4b0','patient');
  t=txt('',{x:165,y:632,class:'s75'},g); t.innerHTML='Patient-derived cell lines (PCY score: Nestin<tspan dy="-3" font-size="5">+</tspan><tspan dy="3"> cells)</tspan>';
  
  
  section(pdcScores,pdcLines,636.5,634,'#9fd4b0','pdc');
  t=txt('Glioblastoma cell lines (viability score: relative reduction in spheroid area or total cell number)',{x:165,y:674,class:'s75'},g);
  
  
  section(gblScores,gblLines,678,634,'#7f8c8d','cellline');
  const sexC={M:'#8bc34a',F:'#e07cc0'}, mgC={U:'#5a8a8a',M:'#c8b48a',N:'#e0e0e0'};
  patients.forEach((p,i)=>{
    const y=428+i*RH;
    let a=mk('rect',{x:633,y:y,width:4,height:RH,fill:patStatus[i]==='R'?'#8a9fd6':'#eeeeee',stroke:'#fff','stroke-width':0.2},g);
    
    
    a=mk('rect',{x:640,y:y,width:4,height:RH,fill:sexC[patSex[i]]},g);
    
    
    a=mk('rect',{x:646,y:y,width:4,height:RH,fill:mgC[patMgmt[i]]},g);
    
    
    const k=patKi67[i]/100;
    const c=lerp([255,255,255],[63,29,143],k);
    a=mk('rect',{x:653,y:y,width:4,height:RH,fill:`rgb(${c[0]},${c[1]},${c[2]})`},g);
    
    
  });
  const clsC={AD:'#f5c518',AE:'#f07f28',AP:'#d86fb0',DA:'#8e5fb5',AC:'#2ca048',AZ:'#2a72b5',PD:'#1fbfcf',OT:'#c0c0c0'};
  drugs.forEach((d,i)=>{
    const r=mk('rect',{x:X0+i*CW,y:711,width:CW,height:6,fill:clsC[drugClass[i]],stroke:'#888','stroke-width':0.3},g);
    
    
    const cx=X0+i*CW+CW/2+2.2;
    const l=txt(d,{x:cx,y:720,'text-anchor':'end',transform:`rotate(-90 ${cx} 720)`,class:'s65'},g);
    
    
  });
  const legCls=['AD','AE','AP','DA','AC','AZ','PD','OT'];
  legCls.forEach((c,i)=>{
    const y=706+i*9.6;
    mk('rect',{x:102,y:y,width:6,height:6,fill:clsC[c]},g);
    const l=txt(c,{x:116,y:y+6,class:'s6'},g);
    
    
  });
})();
</script>
</body></html>
